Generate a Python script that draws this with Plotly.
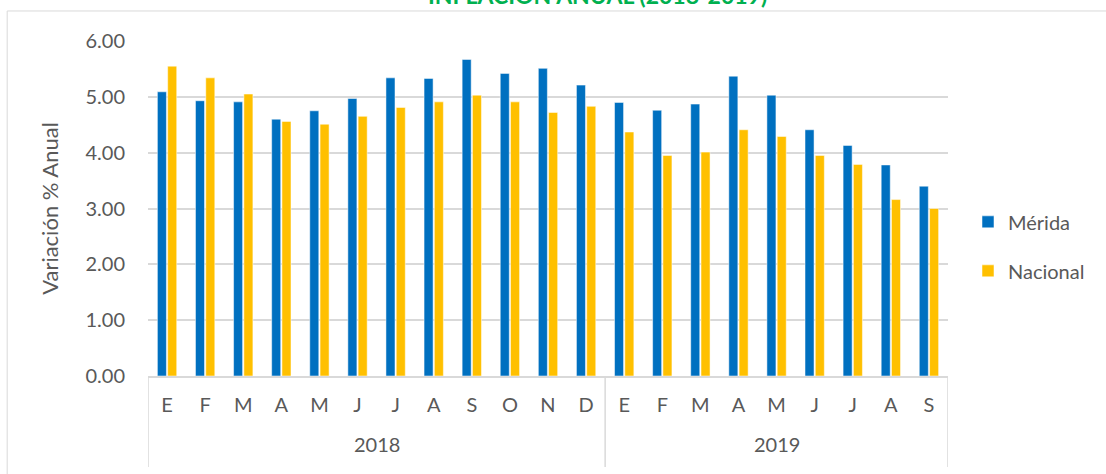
import plotly.graph_objects as go

years = ["2018"] * 12 + ["2019"] * 9
months = ["E", "F", "M", "A", "M", "J", "J", "A", "S", "O", "N", "D",
          "E", "F", "M", "A", "M", "J", "J", "A", "S"]
merida = [5.09, 4.93, 4.91, 4.60, 4.75, 4.97, 5.34, 5.33, 5.67, 5.42, 5.51, 5.21,
          4.90, 4.76, 4.87, 5.37, 5.03, 4.41, 4.13, 3.78, 3.40]
nacional = [5.55, 5.34, 5.05, 4.56, 4.51, 4.65, 4.81, 4.91, 5.03, 4.91, 4.72, 4.83,
            4.37, 3.95, 4.01, 4.41, 4.29, 3.95, 3.79, 3.16, 3.00]
y_ticks = [0, 1, 2, 3, 4, 5, 6]

idx = list(range(len(months)))
font = "Lato, 'Open Sans', sans-serif"
gray = "#595959"
line_gray = "#D9D9D9"

fig = go.Figure()
fig.add_trace(go.Bar(x=idx, y=merida, name="Mérida", marker_color="#0070C0",
                     legendgroup="m",
                     marker_line=dict(color="rgba(255,255,255,0.5)", width=1)))
fig.add_trace(go.Bar(x=idx, y=nacional, name="Nacional", marker_color="#FFC000",
                     legendgroup="n",
                     marker_line=dict(color="rgba(255,255,255,0.5)", width=1)))

# year groups: labels centred on each group, dividers at group boundaries
groups = []
for i, yr in enumerate(years):
    if not groups or groups[-1][0] != yr:
        groups.append([yr, i, i])
    else:
        groups[-1][2] = i

annotations = [dict(text="<b>INFLACIÓN ANUAL (2018-2019)</b>", xref="paper",
                    yref="paper", x=0.562, y=1.091, xanchor="center",
                    yanchor="bottom", showarrow=False,
                    font=dict(size=23, color="#00B050"))]
shapes = [dict(type="rect", xref="paper", yref="paper", x0=-0.176, x1=1.3,
               y0=-0.4, y1=1.0896, line=dict(color=line_gray, width=1),
               layer="below")]
bounds = set()
for yr, a, b in groups:
    annotations.append(dict(text=yr, x=(a + b) / 2, xref="x", y=-0.203,
                            yref="paper", yanchor="middle", showarrow=False,
                            font=dict(size=20, color=gray)))
    bounds.add(a - 0.5)
    bounds.add(b + 0.5)
for bx in sorted(bounds):
    shapes.append(dict(type="line", xref="x", yref="paper", x0=bx, x1=bx,
                       y0=0, y1=-0.272, line=dict(color=line_gray, width=1.5)))

fig.update_layout(
    width=1106, height=474,
    margin=dict(l=148, r=158, t=41, b=98),
    paper_bgcolor="white", plot_bgcolor="white",
    barmode="group", bargap=0.46, bargroupgap=0.12,
    font=dict(family=font, size=20, color=gray),
    showlegend=True,
    legend=dict(x=1.025, xanchor="left", y=0.387, yanchor="middle",
                font=dict(size=20, color=gray), tracegroupgap=20,
                itemwidth=30),
    xaxis=dict(range=[-0.5, len(months) - 0.5], tickvals=idx, ticktext=months,
               showgrid=False, showline=True, linecolor=line_gray, linewidth=1.5,
               ticks="", ticklabelstandoff=10, zeroline=False,
               tickfont=dict(size=20, color=gray)),
    yaxis=dict(range=[0, 6], tickvals=y_ticks, tickformat=".2f",
               showgrid=True, gridcolor=line_gray, gridwidth=2,
               zeroline=False, showline=False, ticklabelstandoff=22,
               tickfont=dict(size=20, color=gray),
               title=dict(text="Variación % Anual", font=dict(size=22, color=gray),
                          standoff=20)),
    annotations=annotations,
    shapes=shapes,
)

fig.write_html("out.html", config={"displayModeBar": False},
               post_script="document.body.style.margin='0';"
                           "document.body.style.overflow='hidden';")
